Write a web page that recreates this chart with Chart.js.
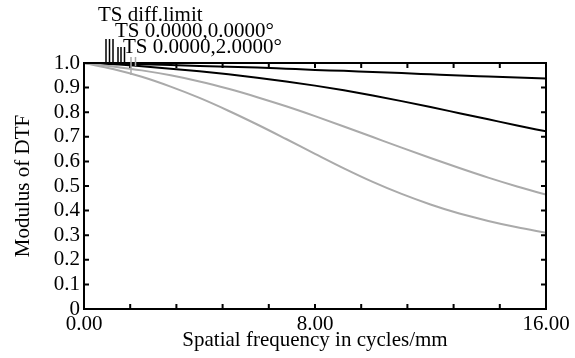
<!DOCTYPE html>
<html><head><meta charset="utf-8">
<script src="https://cdn.jsdelivr.net/npm/chart.js@4"></script>
<style>html,body{margin:0;padding:0;background:#fff}#c{display:block}</style>
</head><body>
<canvas id="c" width="575" height="358"></canvas>
<script>
// Spatial frequency (cycles/mm)
const frequencies = [0,1,2,3,4,5,6,7,8,9,10,11,12,13,14,15,16];
// Diffraction limit (black, upper)
const diffLimit = [1.000,0.998,0.995,0.992,0.988,0.985,0.982,0.977,0.972,0.968,0.963,0.959,0.954,0.949,0.945,0.941,0.937];
// Field 0.0000,0.0000° (black, lower)
const field0 = [1.000,0.995,0.987,0.977,0.966,0.954,0.940,0.925,0.908,0.889,0.868,0.845,0.821,0.796,0.771,0.746,0.722];
// Field 0.0000,2.0000° (gray, upper)
const field2a = [1.000,0.986,0.970,0.950,0.925,0.895,0.861,0.824,0.784,0.742,0.699,0.656,0.614,0.573,0.534,0.498,0.465];
// Field 0.0000,2.0000° (gray, lower)
const field2b = [1.000,0.976,0.944,0.904,0.858,0.806,0.750,0.691,0.631,0.572,0.517,0.468,0.425,0.388,0.358,0.332,0.310];

const xLabels = {0:'0.00', 8:'8.00', 16:'16.00'};
const legendTexts = ['TS diff.limit','TS 0.0000,0.0000°','TS 0.0000,2.0000°'];
const FONT = 'Liberation Serif';
const FS = 21;

const pts = arr => frequencies.map((f,i)=>({x:f, y:arr[i]}));
const ds = (arr,color,w) => ({data:pts(arr), borderColor:color, borderWidth:w, pointRadius:0, cubicInterpolationMode:'monotone', fill:false});

const framePlugin = {
  id:'frame',
  afterDatasetsDraw(chart){
    const {ctx, chartArea:{left,right,top,bottom}, scales:{x,y}} = chart;
    ctx.save();
    ctx.strokeStyle='#000';
    ctx.lineWidth=2;
    ctx.strokeRect(left,top,right-left,bottom-top);
    const tl=5;
    ctx.lineWidth=2;
    ctx.beginPath();
    for (const t of x.ticks) {
      const p=x.getPixelForValue(t.value);
      ctx.moveTo(p,bottom); ctx.lineTo(p,bottom-tl);
      ctx.moveTo(p,top); ctx.lineTo(p,top+tl);
    }
    for (const t of y.ticks) {
      const p=y.getPixelForValue(t.value);
      ctx.moveTo(left,p); ctx.lineTo(left+tl,p);
      ctx.moveTo(right,p); ctx.lineTo(right-tl,p);
    }
    ctx.stroke();
    // legend markers
    ctx.lineWidth=1.5;
    ctx.beginPath();
    [22,25.5,29].forEach(o=>{ctx.moveTo(left+o,top-24);ctx.lineTo(left+o,top);});
    [34,37,40.5].forEach(o=>{ctx.moveTo(left+o,top-16);ctx.lineTo(left+o,top);});
    ctx.stroke();
    ctx.strokeStyle='#aaa';
    ctx.beginPath();
    ctx.moveTo(left+47,top-6);ctx.lineTo(left+47,top+12);
    ctx.moveTo(left+51.5,top-6);ctx.lineTo(left+51.5,top+3);
    ctx.stroke();
    // legend text
    ctx.fillStyle='#000';
    ctx.font=FS+'px "'+FONT+'"';
    ctx.textBaseline='alphabetic';
    ctx.textAlign='left';
    ctx.fillText(legendTexts[0], left+14, top-42.5);
    ctx.fillText(legendTexts[1], left+31, top-26.5);
    ctx.fillText(legendTexts[2], left+39, top-10.5);
    ctx.restore();
  }
};

new Chart(document.getElementById('c'), {
  type:'line',
  data:{datasets:[
    ds(field2b,'#aaaaaa',2),
    ds(field2a,'#aaaaaa',2),
    ds(field0,'#000000',2),
    ds(diffLimit,'#000000',2)
  ]},
  options:{
    responsive:false, animation:false,
    plugins:{legend:{display:false}, tooltip:{enabled:false}},
    layout:{padding:{left:0, top:63, right:29, bottom:0}},
    scales:{
      x:{type:'linear', min:0, max:16,
        ticks:{stepSize:1.6, autoSkip:false, maxRotation:0, padding:3, color:'#000',
          font:{family:FONT, size:FS},
          callback:(v)=>{for(const k in xLabels){if(Math.abs(v-k)<1e-6) return xLabels[k];} return '';}},
        grid:{display:false, drawTicks:false}, border:{display:false},
        title:{display:true, text:'Spatial frequency in cycles/mm', color:'#000', font:{family:FONT, size:FS}, padding:{top:0,bottom:5}},
        afterFit(s){s.height=49;}
      },
      y:{min:0, max:1,
        ticks:{stepSize:0.1, autoSkip:false, padding:4, color:'#000', font:{family:FONT, size:FS},
          callback:(v)=> Math.abs(v)<1e-9 ? '0' : Number(v).toFixed(1)},
        grid:{display:false, drawTicks:false}, border:{display:false},
        title:{display:true, text:'Modulus of DTF', color:'#000', font:{family:FONT, size:FS}, padding:{top:11,bottom:0}},
        afterFit(s){s.width=84;}
      }
    }
  },
  plugins:[framePlugin]
});
</script>
</body></html>
